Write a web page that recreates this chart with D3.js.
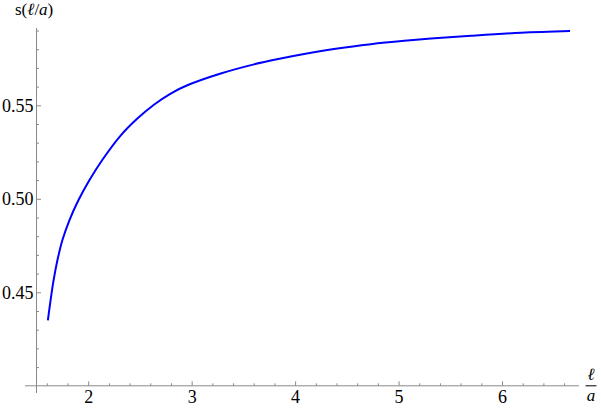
<!DOCTYPE html>
<html>
<head>
<meta charset="utf-8">
<script src="https://cdn.jsdelivr.net/npm/d3@7"></script>
<style>
  body { margin: 0; background: #fff; }
</style>
</head>
<body>
<div id="chart"></div>
<script>
// curve s(l/a)
var ratio = [1.610, 1.636, 1.665, 1.702, 1.750, 1.818, 1.905, 2.011, 2.134, 2.313,
  2.475, 2.635, 2.797, 2.958, 3.281, 3.603, 3.861, 4.087, 4.410, 4.732,
  5.055, 5.313, 5.700, 6.184, 6.658];
var sValue = [0.4350, 0.4457, 0.4564, 0.4671, 0.4778, 0.4885, 0.4992, 0.5099, 0.5206, 0.5338,
  0.5429, 0.5503, 0.5563, 0.5607, 0.5670, 0.5719, 0.5750, 0.5774, 0.5804, 0.5827,
  0.5845, 0.5857, 0.5872, 0.5888, 0.5897];
var xTicks = [2, 3, 4, 5, 6];
var yTicks = [0.45, 0.50, 0.55];

var width = 601, height = 409;
var axisColor = "#8a8a8a";
var serif = "'Liberation Serif'";

var svg = d3.select("#chart").append("svg")
  .attr("width", width)
  .attr("height", height);

var xScale = d3.scaleLinear().domain([1.5, 6]).range([36.5, 502]);
var yScale = d3.scaleLinear().domain([0.40, 0.55]).range([385.8, 105.3]);

// minor ticks
var xMinor = d3.range(1.6, 6.7, 0.2).filter(function (v) {
  return Math.abs(v - Math.round(v)) > 0.01;
});
var yMinor = d3.range(0.41, 0.595, 0.01).filter(function (v) {
  return yTicks.every(function (t) { return Math.abs(t - v) > 0.001; });
});

//x axis
var gx = svg.append("g").attr("transform", "translate(0," + yScale(0.40) + ")");
gx.append("line")
  .attr("x1", 25).attr("x2", 579)
  .attr("stroke", axisColor).attr("stroke-width", 1);
gx.append("g")
  .call(d3.axisBottom(xScale).tickValues(xMinor).tickSizeInner(-2.5).tickSizeOuter(0).tickFormat(""))
  .call(function (g) { g.select(".domain").remove(); })
  .selectAll("line").attr("stroke", axisColor);
var gxMajor = gx.append("g")
  .call(d3.axisBottom(xScale).tickValues(xTicks).tickSizeInner(-4.5).tickSizeOuter(0).tickPadding(4.5).tickFormat(d3.format("d")))
  .call(function (g) { g.select(".domain").remove(); });
gxMajor.attr("font-family", null).attr("font-size", null);
gxMajor.selectAll("line").attr("stroke", axisColor);
gxMajor.selectAll("text")
  .style("font-family", serif)
  .style("font-size", "18px")
  .attr("fill", "#000");

//y axis
var gy = svg.append("g").attr("transform", "translate(" + xScale(1.5) + ",0)");
gy.append("line")
  .attr("y1", 28).attr("y2", 393)
  .attr("stroke", axisColor).attr("stroke-width", 1);
gy.append("g")
  .call(d3.axisLeft(yScale).tickValues(yMinor).tickSizeInner(-2.5).tickSizeOuter(0).tickFormat(""))
  .call(function (g) { g.select(".domain").remove(); })
  .selectAll("line").attr("stroke", axisColor);
var gyMajor = gy.append("g")
  .call(d3.axisLeft(yScale).tickValues(yTicks).tickSizeInner(-4.5).tickSizeOuter(0).tickPadding(3).tickFormat(d3.format(".2f")))
  .call(function (g) { g.select(".domain").remove(); });
gyMajor.attr("font-family", null).attr("font-size", null);
gyMajor.selectAll("line").attr("stroke", axisColor);
gyMajor.selectAll("text")
  .style("font-family", serif)
  .style("font-size", "18px")
  .attr("fill", "#000");

// axis titles
var yTitle = svg.append("text")
  .attr("x", 15).attr("y", 15)
  .style("font-family", serif)
  .style("font-size", "17px");
yTitle.append("tspan").text("s(");
yTitle.append("tspan").style("font-style", "italic").text("ℓ");
yTitle.append("tspan").text("/");
yTitle.append("tspan").style("font-style", "italic").text("a");
yTitle.append("tspan").text(")");

var xTitle = svg.append("g")
  .attr("transform", "translate(591," + yScale(0.40) + ")");
xTitle.append("text")
  .attr("text-anchor", "middle").attr("y", -6)
  .style("font-family", serif).style("font-size", "17px").style("font-style", "italic")
  .text("ℓ");
xTitle.append("line")
  .attr("x1", -5.5).attr("x2", 5.5)
  .attr("stroke", "#000").attr("stroke-width", 1);
xTitle.append("text")
  .attr("text-anchor", "middle").attr("y", 15)
  .style("font-family", serif).style("font-size", "17px").style("font-style", "italic")
  .text("a");

// curve
var line = d3.line()
  .x(function (d, i) { return xScale(ratio[i]); })
  .y(function (d) { return yScale(d); })
  .curve(d3.curveCatmullRom.alpha(0.5));

svg.append("path")
  .datum(sValue)
  .attr("d", line)
  .attr("fill", "none")
  .attr("stroke", "#0000ff")
  .attr("stroke-width", 2);
</script>
</body>
</html>
